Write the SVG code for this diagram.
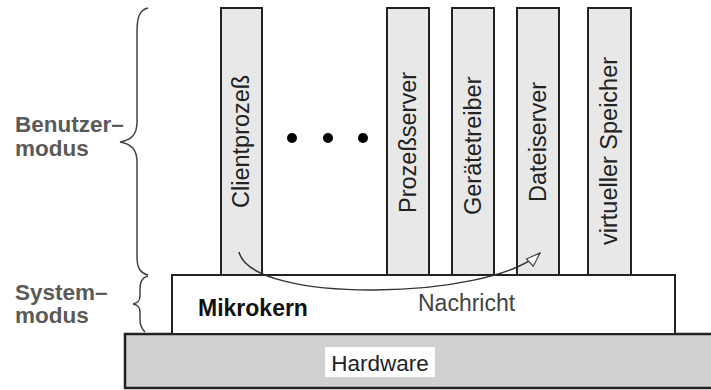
<svg xmlns="http://www.w3.org/2000/svg" width="711" height="390" viewBox="0 0 711 390">
<style>
.col{fill:#e8e8e8;stroke:#222;stroke-width:2}
.vt{font-family:"Liberation Sans",Arial,sans-serif;font-size:23.5px;fill:#222}
.side{font-family:"Liberation Sans",Arial,sans-serif;font-size:22.5px;font-weight:bold;fill:#5a5a5a}
.brace{fill:none;stroke:#444;stroke-width:1.5}
</style>
<defs>
<marker id="arr" viewBox="0 0 16 12" refX="15" refY="6" markerWidth="16" markerHeight="12" markerUnits="userSpaceOnUse" orient="auto">
<path d="M1,1 L15,6 L1,11 Z" fill="#fff" stroke="#444" stroke-width="1.2"/>
</marker>
</defs>
<rect width="711" height="390" fill="#fff"/>
<g id="hardware">
<rect x="125" y="334" width="592" height="54" fill="#d0d0d0" stroke="#222" stroke-width="2.5"/>
<rect x="325" y="347" width="110" height="30" fill="#fff"/>
<text x="380" y="371" text-anchor="middle" font-family="Liberation Sans,Arial,sans-serif" font-size="22.5" fill="#222">Hardware</text>
</g>
<g id="mikrokern">
<rect x="172" y="275" width="503" height="59" fill="#fff" stroke="#222" stroke-width="2"/>
<text x="198" y="316" font-family="Liberation Sans,Arial,sans-serif" font-size="23" font-weight="bold" fill="#111">Mikrokern</text>
</g>
<g id="clientprozess">
<rect class="col" x="221" y="8" width="41" height="267"/>
<text class="vt" transform="translate(249,208) rotate(-90)">Clientprozeß</text>
</g>
<g id="dots">
<circle cx="292" cy="138" r="5" fill="#000"/>
<circle cx="328" cy="138" r="5" fill="#000"/>
<circle cx="363" cy="138" r="5" fill="#000"/>
</g>
<g id="prozessserver">
<rect class="col" x="387" y="8" width="42" height="267"/>
<text class="vt" transform="translate(416,213) rotate(-90)">Prozeßserver</text>
</g>
<g id="geraetetreiber">
<rect class="col" x="452" y="8" width="42" height="267"/>
<text class="vt" transform="translate(481,215) rotate(-90)">Gerätetreiber</text>
</g>
<g id="dateiserver">
<rect class="col" x="517" y="8" width="42" height="267"/>
<text class="vt" transform="translate(546,202) rotate(-90)">Dateiserver</text>
</g>
<g id="virtueller-speicher">
<rect class="col" x="588" y="8" width="43" height="267"/>
<text class="vt" transform="translate(617,245) rotate(-90)">virtueller Speicher</text>
</g>
<g id="connectors">
<path d="M239,252 C252,305 490,300 540,253" fill="none" stroke="#333" stroke-width="1.5" marker-end="url(#arr)"/>
<text x="418" y="311" font-family="Liberation Sans,Arial,sans-serif" font-size="23" fill="#444">Nachricht</text>
</g>
<g id="benutzermodus">
<path class="brace" d="M148,8 C139,10 137,18 137,32 L137,122 C137,134 132,140 120,142 C132,144 137,150 137,162 L137,256 C137,268 140,273 148,275"/>
<text class="side" x="15" y="132">Benutzer–</text>
<text class="side" x="15" y="156">modus</text>
</g>
<g id="systemmodus">
<path class="brace" d="M148,276 C141,278 140,283 140,290 L140,296 C140,301 138,303 133,304 C138,305 140,307 140,312 L140,320 C140,326 142,329 145,332"/>
<text class="side" x="15" y="300">System–</text>
<text class="side" x="15" y="323">modus</text>
</g>
</svg>
